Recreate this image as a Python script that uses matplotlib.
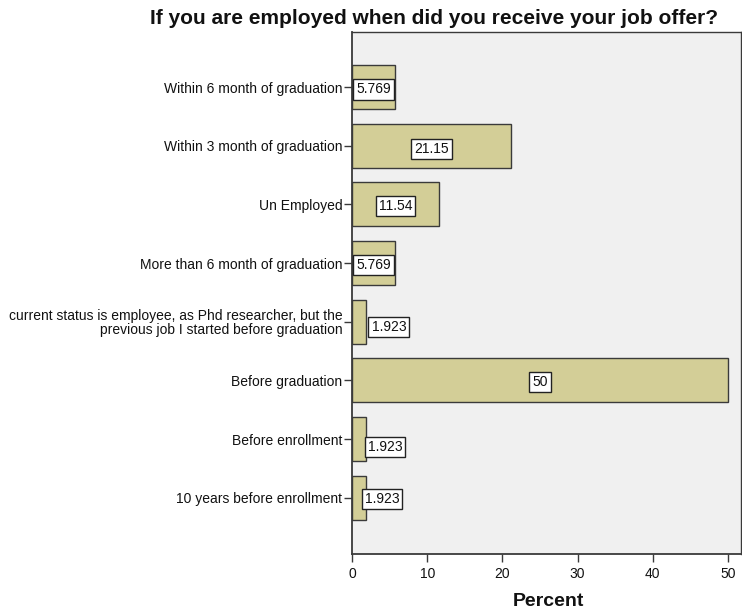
import matplotlib
matplotlib.use("Agg")
import matplotlib.pyplot as plt

categories = [
    "10 years before enrollment",
    "Before enrollment",
    "Before graduation",
    "current status is employee, as Phd researcher, but the\nprevious job I started before graduation",
    "More than 6 month of graduation",
    "Un Employed",
    "Within 3 month of graduation",
    "Within 6 month of graduation",
]
percent = [1.923, 1.923, 50, 1.923, 5.769, 11.54, 21.15, 5.769]
value_labels = ["1.923", "1.923", "50", "1.923", "5.769", "11.54", "21.15", "5.769"]

# label placement (style): x centre in data units (None -> value/2), y offset in bar units
label_x = [4.0, 4.4, None, 4.9, None, None, None, None]
label_dy = [-0.02, -0.14, -0.03, -0.09, -0.04, -0.02, -0.06, -0.04]

plt.rcParams['font.family'] = ['Liberation Sans', 'DejaVu Sans']

fig = plt.figure(figsize=(7.42, 6.10), dpi=100)
ax = fig.add_axes([352/742, 1-554/610, (741-352)/742, (554-32)/610])
ax.set_facecolor('#F0F0F0')

ypos = list(range(len(categories)))
ax.barh(ypos, percent, height=0.75, color='#D3CE97', edgecolor='#3A3A3A', linewidth=1.0, zorder=2)

for i, (v, lab) in enumerate(zip(percent, value_labels)):
    x = label_x[i] if label_x[i] is not None else v / 2
    ax.text(x, ypos[i] + label_dy[i], lab, ha='center', va='center', fontsize=10, color='#111111',
            bbox=dict(boxstyle='square,pad=0.22', facecolor='white', edgecolor='#222222', linewidth=1.0),
            zorder=3)

ax.set_yticks(ypos)
ax.set_yticklabels(categories, fontsize=10, color='#111111', linespacing=1.0)
ax.set_ylim(-0.96, 7.94)
ax.set_xlim(0, 51.73)
ax.set_xticks([0, 10, 20, 30, 40, 50])
ax.tick_params(axis='x', length=6, width=1, color='#3A3A3A', labelsize=10, labelcolor='#111111', pad=3)
ax.tick_params(axis='y', length=6, width=1, color='#3A3A3A', pad=1)
for s in ax.spines.values():
    s.set_color('#3A3A3A')
    s.set_linewidth(1.0)
ax.spines['left'].set_linewidth(1.3)
ax.spines['bottom'].set_linewidth(1.3)

fig.text(434.5/742, 1-18/610, "If you are employed when did you receive your job offer?",
         ha='center', va='center', fontsize=15, fontweight='bold', color='#111111')
fig.text(548/742, 1-602/610, "Percent", ha='center', va='center', fontsize=14,
         fontweight='bold', color='#111111')

fig.savefig("out.png", dpi=100)
